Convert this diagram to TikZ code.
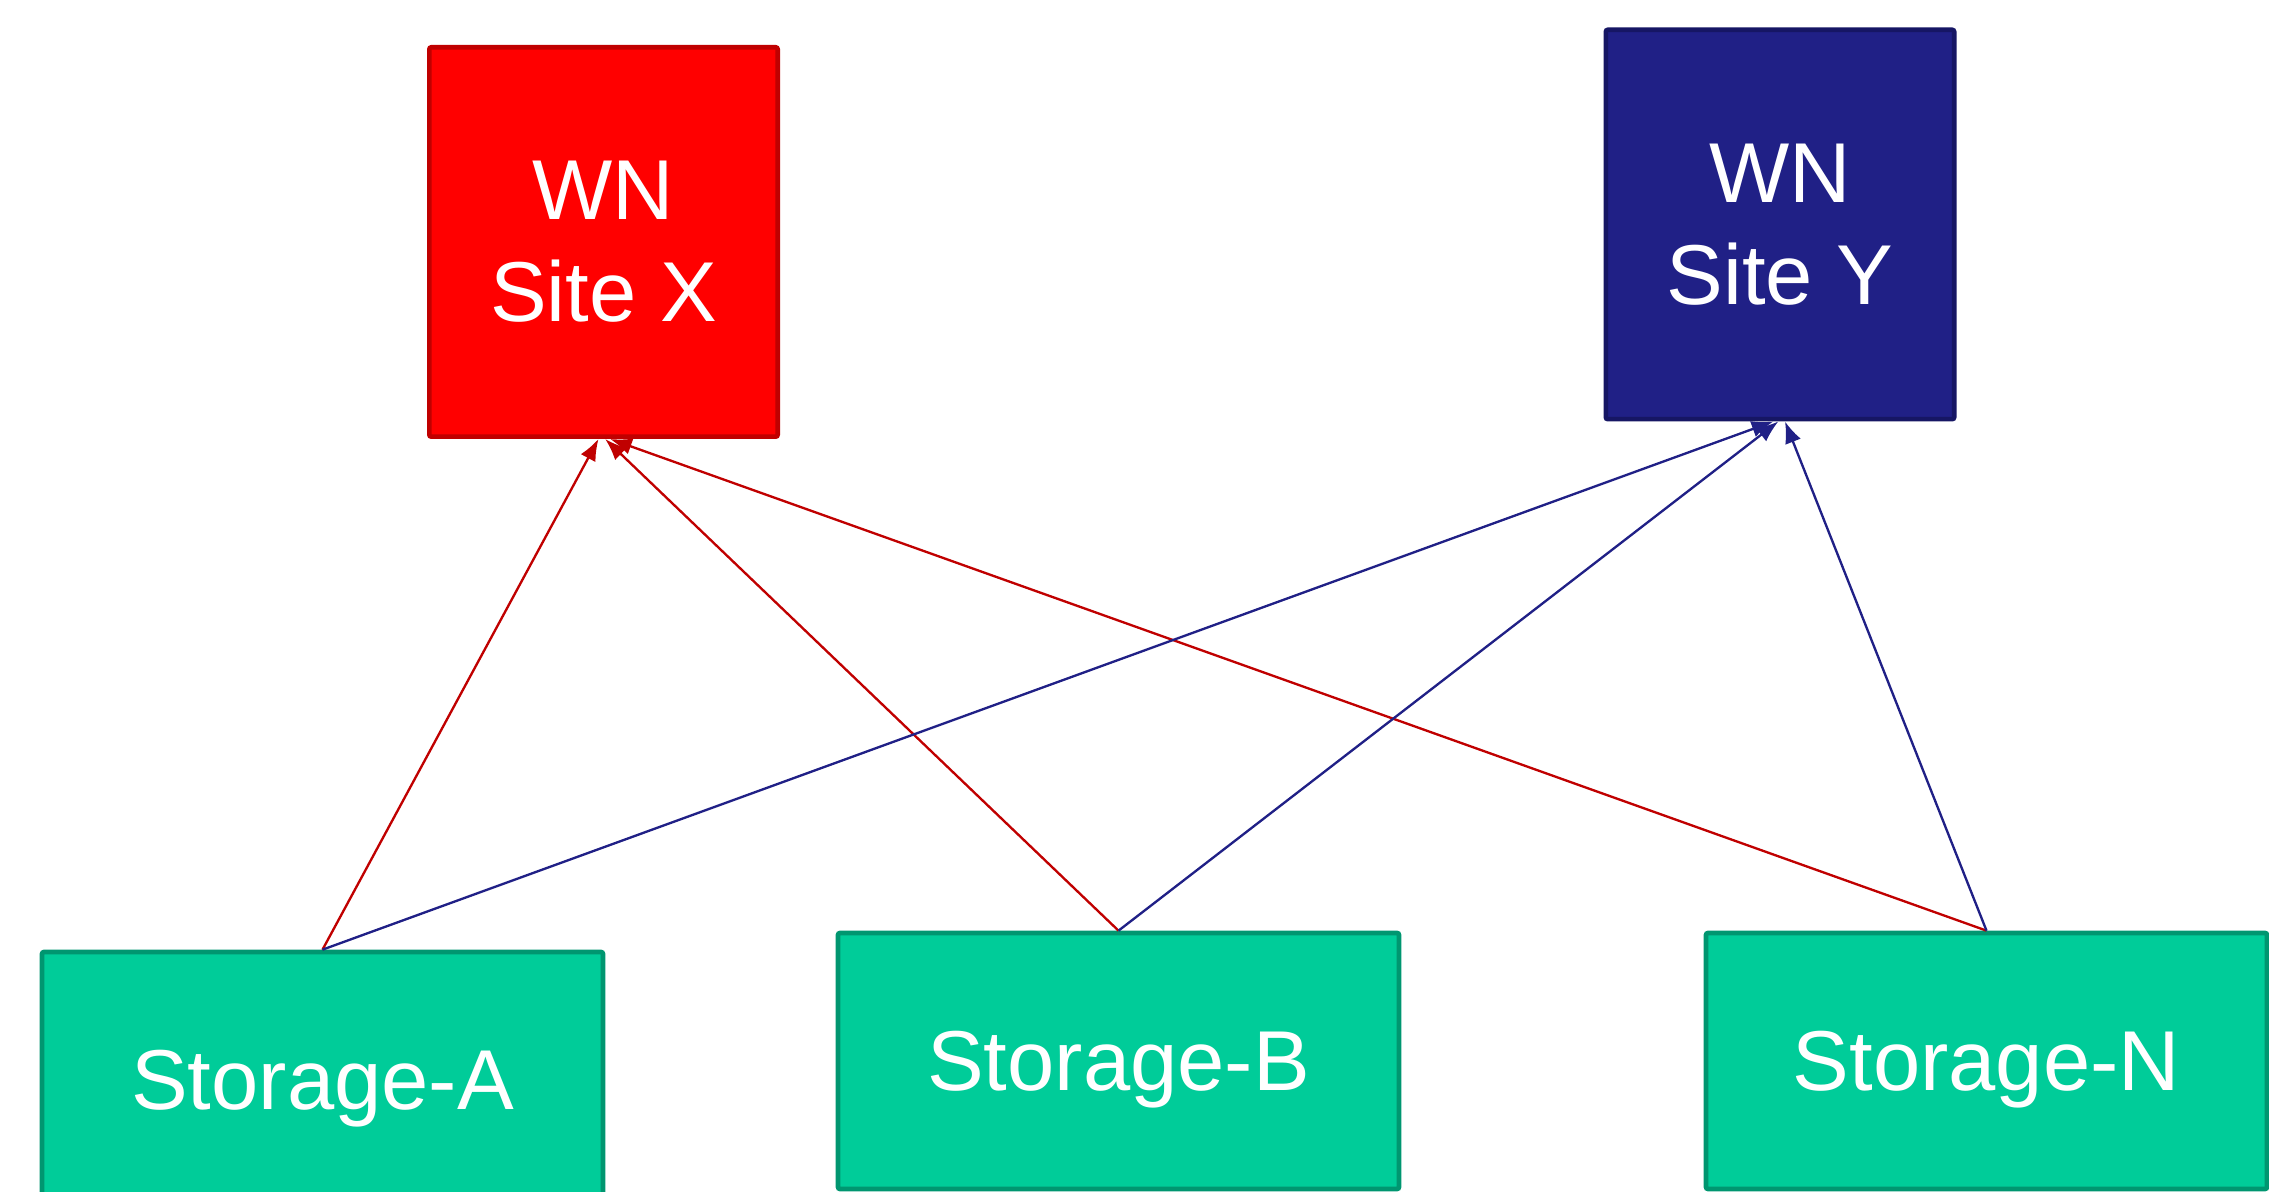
\documentclass[tikz,border=0pt]{standalone}
\usepackage{fontspec}
\setmainfont{Liberation Sans}
\usepackage{tikz}
\definecolor{wnred}{RGB}{255, 0, 0}
\definecolor{wnredline}{RGB}{192, 0, 0}
\definecolor{wnblue}{RGB}{32, 32, 134}
\definecolor{wnblueline}{RGB}{22, 22, 100}
\definecolor{stgreen}{RGB}{0, 204, 153}
\definecolor{stgreenline}{RGB}{0, 150, 112}
\usetikzlibrary{arrows.meta}
\tikzset{
  boxtext/.style={text=white, align=center, font=\fontsize{25.5}{30.6}\selectfont},
  wnbox/.style={rectangle, boxtext, line width=1.4pt, rounded corners=0.6pt, minimum width=104.5pt, minimum height=116.8pt},
  storebox/.style={rectangle, boxtext, text depth=0pt, fill=stgreen, draw=stgreenline, line width=1.4pt, rounded corners=0.6pt, minimum width=168.3pt, minimum height=76.8pt},
  link/.style={line width=0.7pt, -{Latex[length=6.5pt, width=5pt]}}
}

\begin{document}
\begin{tikzpicture}
\useasboundingbox (0pt, 0pt) rectangle (680.7pt, -357.6pt);
\node (wx) [wnbox, fill=wnred, draw=wnredline] at (181.05pt, -72.6pt) {WN\\Site X};
\node (wy) [wnbox, fill=wnblue, draw=wnblueline] at (534.0pt, -67.35pt) {WN\\Site Y};
\node (sa) [storebox] at (96.75pt, -324.0pt) {Storage-A};
\node (sb) [storebox] at (335.55pt, -318.3pt) {Storage-B};
\node (sn) [storebox] at (595.95pt, -318.3pt) {Storage-N};
\draw [link, color=wnredline] (sa.north) to ([xshift=-1.5pt]wx.south);
\draw [link, color=wnredline] (sb.north) to ([xshift=0.5pt]wx.south);
\draw [link, color=wnredline] (sn.north) to ([xshift=2pt]wx.south);
\draw [link, color=wnblue] (sa.north) to ([xshift=-2pt]wy.south);
\draw [link, color=wnblue] (sb.north) to ([xshift=-0.5pt]wy.south);
\draw [link, color=wnblue] (sn.north) to ([xshift=1.5pt]wy.south);
\end{tikzpicture}
\end{document}
